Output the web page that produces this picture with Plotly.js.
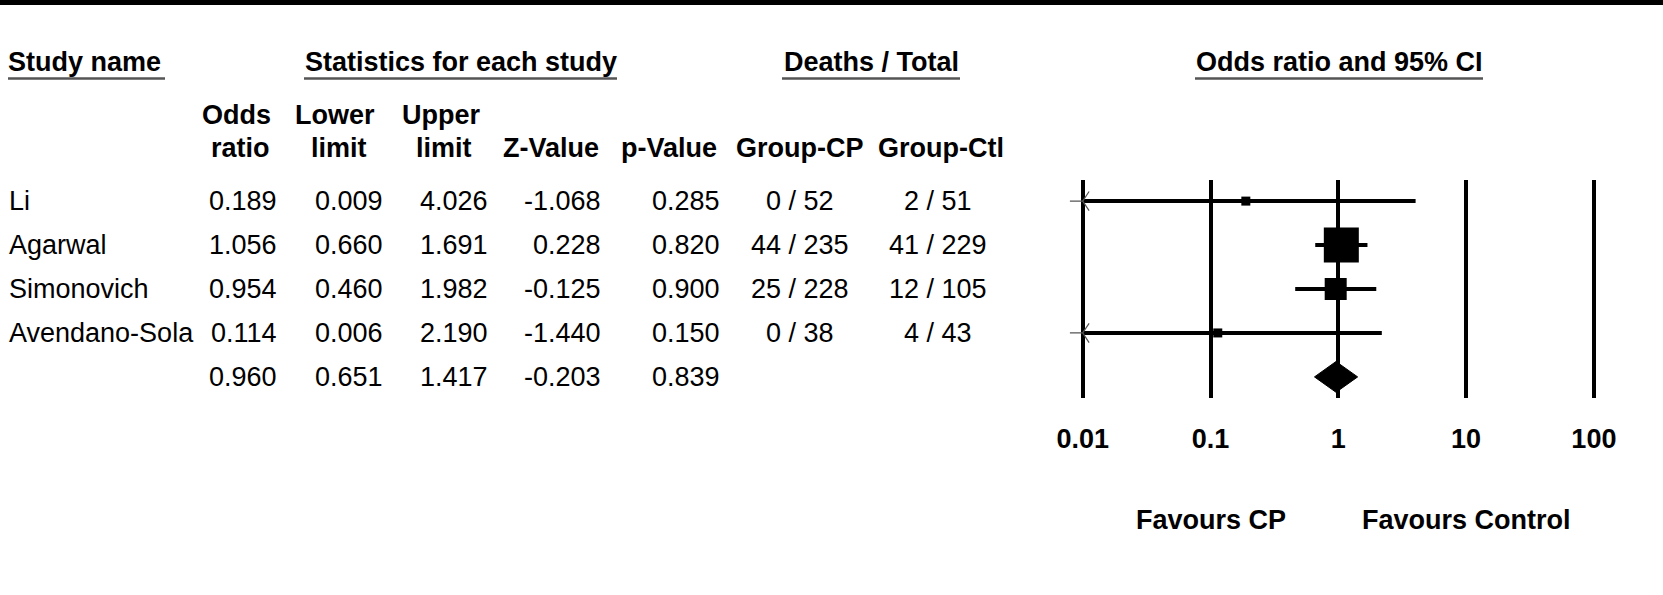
<!DOCTYPE html>
<html>
<head>
<meta charset="utf-8">
<script src="https://cdn.plot.ly/plotly-3.0.1.min.js"></script>
<style>html,body{margin:0;padding:0;background:#fff;}#chart{width:1663px;height:595px;}</style>
</head>
<body>
<div id="chart"></div>
<script>
// ---- data ----
const studies    = ["Li", "Agarwal", "Simonovich", "Avendano-Sola"];
const oddsRatio  = [0.189, 1.056, 0.954, 0.114];
const lowerLimit = [0.009, 0.660, 0.460, 0.006];
const upperLimit = [4.026, 1.691, 1.982, 2.190];
const zValue     = [-1.068, 0.228, -0.125, -1.440];
const pValue     = [0.285, 0.820, 0.900, 0.150];
const cpDeaths   = [0, 44, 25, 0];
const cpTotal    = [52, 235, 228, 38];
const ctlDeaths  = [2, 41, 12, 4];
const ctlTotal   = [51, 229, 105, 43];
const summaryOR    = 0.960;
const summaryLower = 0.651;
const summaryUpper = 1.417;
const summaryZ     = -0.203;
const summaryP     = 0.839;
const axisTicks      = [0.01, 0.1, 1, 10, 100];
const axisTickLabels = ["0.01", "0.1", "1", "10", "100"];

// ---- styles / layout helpers ----
const W = 1663, H = 595;
const FONT = "Liberation Sans, Arial, sans-serif";
const FS = 27;
const squareSizes = [9, 35, 22, 9];
const px = x => x / W;
const py = y => 1 - y / H;
const axisMin = 0.01;

const rowIdx = studies.map((_, i) => i);
const summaryIdx = studies.length;

// CI lines (clipped at axis minimum)
const ciX = [], ciY = [];
studies.forEach((s, i) => {
  ciX.push(Math.max(lowerLimit[i], axisMin), upperLimit[i], null);
  ciY.push(i, i, null);
});
const clipped = rowIdx.filter(i => lowerLimit[i] < axisMin);

const traces = [
  {type: "scatter", mode: "lines", x: ciX, y: ciY, line: {color: "#000", width: 4}, hoverinfo: "skip"},
  {type: "scatter", mode: "markers", x: oddsRatio, y: rowIdx,
   marker: {symbol: "square", size: squareSizes, color: "#000", opacity: 1, line: {width: 0}}},
  {type: "scatter", mode: "markers", x: clipped.map(() => axisMin), y: clipped,
   marker: {symbol: "y-left", size: 16, color: "#555", opacity: 1, line: {color: "#555", width: 1.2}}},
  {type: "scatter", mode: "lines",
   x: [summaryLower, summaryOR, summaryUpper, summaryOR, summaryLower],
   y: [summaryIdx, summaryIdx - 0.35, summaryIdx, summaryIdx + 0.35, summaryIdx],
   fill: "toself", fillcolor: "#000", line: {color: "#000", width: 1}}
];

// ---- table text ----
const ann = [];
function txt(t, x, y, anchor, bold) {
  ann.push({text: t, xref: "paper", yref: "paper", x: px(x), y: py(y),
    xanchor: anchor, yanchor: "middle", showarrow: false, borderpad: 0, borderwidth: 0,
    font: {family: FONT, size: FS, color: "#000", weight: bold ? 700 : 400}});
}
// top headers
txt("Study name", 8, 62.5, "left", true);
txt("Statistics for each study", 461, 62.5, "center", true);
txt("Deaths / Total", 871, 62.5, "center", true);
txt("Odds ratio and 95% CI", 1339, 62.5, "center", true);
// column headers
txt("Odds", 236, 115.5, "center", true);  txt("ratio", 240, 147.5, "center", true);
txt("Lower", 335, 115.5, "center", true); txt("limit", 339, 147.5, "center", true);
txt("Upper", 441, 115.5, "center", true); txt("limit", 444, 147.5, "center", true);
txt("Z-Value", 551, 147.5, "center", true);
txt("p-Value", 669, 147.5, "center", true);
txt("Group-CP", 800, 147.5, "center", true);
txt("Group-Ctl", 941, 147.5, "center", true);

const rowY = [201, 245, 289, 333, 377];
studies.forEach((s, i) => {
  const y = rowY[i];
  txt(s, 9, y, "left", false);
  txt(oddsRatio[i].toFixed(3), 277, y, "right", false);
  txt(lowerLimit[i].toFixed(3), 383, y, "right", false);
  txt(upperLimit[i].toFixed(3), 488, y, "right", false);
  txt(zValue[i].toFixed(3), 601, y, "right", false);
  txt(pValue[i].toFixed(3), 720, y, "right", false);
  txt(cpDeaths[i] + " / " + cpTotal[i], 800, y, "center", false);
  txt(ctlDeaths[i] + " / " + ctlTotal[i], 938, y, "center", false);
});
{
  const y = rowY[4];
  txt(summaryOR.toFixed(3), 277, y, "right", false);
  txt(summaryLower.toFixed(3), 383, y, "right", false);
  txt(summaryUpper.toFixed(3), 488, y, "right", false);
  txt(summaryZ.toFixed(3), 601, y, "right", false);
  txt(summaryP.toFixed(3), 720, y, "right", false);
}
txt("Favours CP", 1211, 520, "center", true);
txt("Favours Control", 1466, 520, "center", true);

// ---- shapes: top bar and underlines ----
const shapes = [
  {type: "rect", xref: "paper", yref: "paper", x0: 0, x1: 1, y0: py(5), y1: py(0), fillcolor: "#000", line: {width: 0}},
];
[[8, 165], [304, 617], [782, 960], [1195, 1483]].forEach(([a, b]) => {
  shapes.push({type: "line", xref: "paper", yref: "paper", x0: px(a), x1: px(b), y0: py(78.5), y1: py(78.5),
    line: {color: "#555", width: 2.5}});
});

// axis geometry: 0.01 at 1082.7 px, decade = 127.8 px
const dec = 127.8, oneAt = 1338.3;
const xd0 = 1040, xd1 = 1640;
const layout = {
  width: W, height: H,
  margin: {l: 0, r: 0, t: 0, b: 0},
  paper_bgcolor: "#fff", plot_bgcolor: "#fff",
  showlegend: false,
  xaxis: {type: "log", domain: [px(xd0), px(xd1)],
    range: [(xd0 - oneAt) / dec, (xd1 - oneAt) / dec],
    tickvals: axisTicks, ticktext: axisTickLabels,
    showgrid: true, gridcolor: "#000", gridwidth: 4,
    showline: false, zeroline: false, ticks: "",
    ticklabelstandoff: 22,
    tickfont: {family: FONT, size: FS, color: "#000", weight: 700},
    fixedrange: true},
  yaxis: {domain: [py(398), py(180)], range: [4.48, -0.48],
    visible: false, showgrid: false, zeroline: false, fixedrange: true},
  annotations: ann,
  shapes: shapes
};
Plotly.newPlot("chart", traces, layout, {displayModeBar: false, staticPlot: true});
</script>
</body>
</html>
